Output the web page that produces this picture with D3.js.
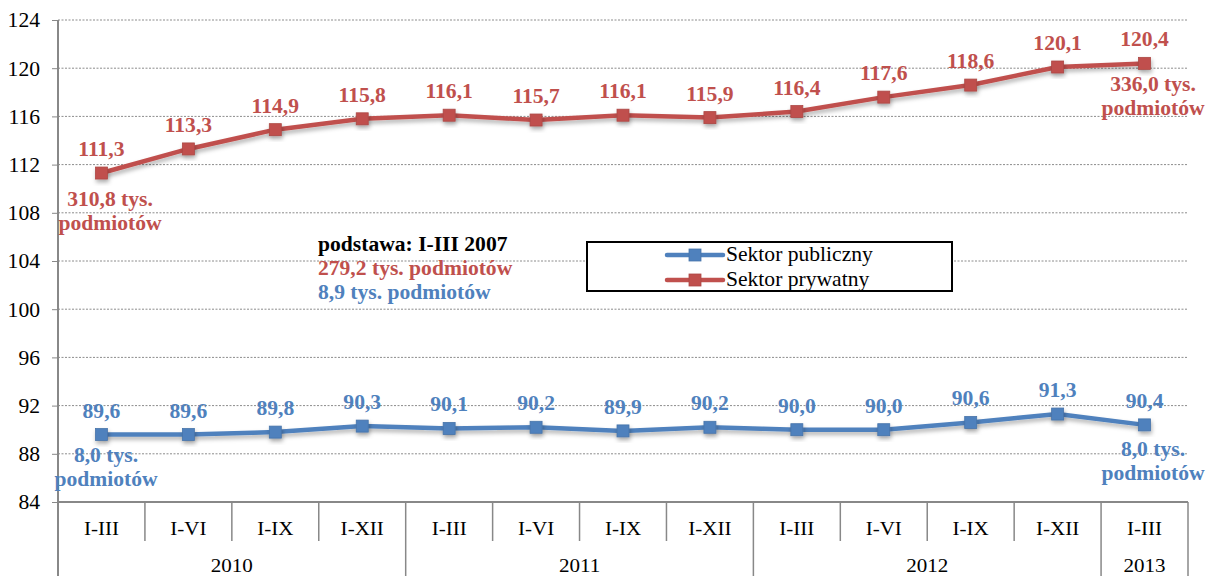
<!DOCTYPE html>
<html><head><meta charset="utf-8">
<script src="https://cdn.jsdelivr.net/npm/d3@7"></script>
<style>body{margin:0;background:#fff;}</style></head>
<body><svg id="c" width="1212" height="576" font-family="Liberation Serif"></svg>
<script>
const categories = ["I-III","I-VI","I-IX","I-XII","I-III","I-VI","I-IX","I-XII","I-III","I-VI","I-IX","I-XII","I-III"];
const years = [{label:"2010", from:0, to:3},{label:"2011", from:4, to:7},{label:"2012", from:8, to:11},{label:"2013", from:12, to:12}];
const publicValues = [89.6,89.6,89.8,90.3,90.1,90.2,89.9,90.2,90.0,90.0,90.6,91.3,90.4];
const privateValues = [111.3,113.3,114.9,115.8,116.1,115.7,116.1,115.9,116.4,117.6,118.6,120.1,120.4];
const yTicks = [84,88,92,96,100,104,108,112,116,120,124];
const seriesNames = ["Sektor publiczny","Sektor prywatny"];
const baseNote = ["podstawa: I-III 2007","279,2 tys. podmiotów","8,9 tys. podmiotów"];
const privateFirstNote = ["310,8 tys.","podmiotów"];
const privateLastNote = ["336,0 tys.","podmiotów"];
const publicFirstNote = ["8,0 tys.","podmiotów"];
const publicLastNote = ["8,0 tys.","podmiotów"];

const RED = "#C0504D", BLUE = "#4F81BD";
const FONT = "Liberation Serif";
const SX = 1.08;
const svg = d3.select("#c");
const L = 58, R = 1188, T = 20, B = 502;
const x = d3.scaleBand().domain(d3.range(categories.length)).range([L, R]);
const cx = i => x(i) + x.bandwidth()/2;
const y = d3.scaleLinear().domain([84,124]).range([B, T]);

const defs = svg.append("defs");
const f = defs.append("filter").attr("id","sh").attr("x","-50%").attr("y","-50%").attr("width","200%").attr("height","200%");
f.append("feDropShadow").attr("dx",1).attr("dy",3).attr("stdDeviation",2).attr("flood-color","#000").attr("flood-opacity",0.3);

// gridlines
svg.append("g").selectAll("line").data(yTicks.filter(t => t > 84)).join("line")
  .attr("x1", L).attr("x2", R).attr("y1", d => y(d)).attr("y2", d => y(d))
  .attr("stroke", "#8c8c8c").attr("stroke-width", 1).attr("stroke-dasharray", "2,1.5");

// y axis
const ya = svg.append("g").attr("transform", `translate(${L},0)`)
  .call(d3.axisLeft(y).tickValues(yTicks).tickSize(6).tickPadding(12).tickFormat(d3.format("d")));
ya.attr("font-family", FONT);
ya.select(".domain").remove();
ya.selectAll(".tick line").attr("stroke", "#888");
ya.selectAll(".tick text").attr("font-size", 20).attr("fill", "#000").attr("dy", "0.34em");
svg.append("line").attr("x1", L).attr("x2", L).attr("y1", T).attr("y2", 576).attr("stroke", "#888").attr("stroke-width", 2);

// x axis (category)
const xa = svg.append("g");
xa.append("line").attr("x1", L).attr("x2", R).attr("y1", B).attr("y2", B).attr("stroke", "#888").attr("stroke-width", 2);
xa.selectAll("line.div").data(d3.range(1, categories.length)).join("line").attr("class","div")
  .attr("x1", i => x(i)).attr("x2", i => x(i)).attr("y1", B)
  .attr("y2", i => years.some(yr => yr.from === i) ? 576 : 541)
  .attr("stroke", "#888").attr("stroke-width", 1.5);
xa.append("line").attr("x1", R).attr("x2", R).attr("y1", B).attr("y2", 576).attr("stroke", "#888").attr("stroke-width", 1.5);
xa.selectAll("text.cat").data(categories).join("text").attr("class","cat")
  .attr("x", (d, i) => cx(i)).attr("y", 535).attr("text-anchor", "middle")
  .attr("font-size", 19.5).text(d => d);
xa.selectAll("text.yr").data(years).join("text").attr("class","yr")
  .attr("x", d => (x(d.from) + x(d.to) + x.bandwidth())/2).attr("y", 572).attr("text-anchor", "middle")
  .attr("font-size", 19.5).text(d => d.label);

// series
const line = d3.line().x((d, i) => cx(i)).y(d => y(d));
function drawSeries(vals, color) {
  const g = svg.append("g");
  g.append("path").datum(vals).attr("d", line).attr("fill", "none").attr("stroke", color)
    .attr("stroke-width", 4.5).attr("stroke-linejoin", "round").attr("filter", "url(#sh)");
  g.selectAll("rect").data(vals).join("rect")
    .attr("x", (d, i) => cx(i) - 6).attr("y", d => y(d) - 6).attr("width", 12).attr("height", 12)
    .attr("fill", color).attr("stroke", d3.color(color).darker(0.3)).attr("stroke-width", 0.8)
    .attr("filter", "url(#sh)");
  g.selectAll("text").data(vals).join("text")
    .attr("x", (d, i) => cx(i)).attr("y", d => y(d) - 17).attr("text-anchor", "middle")
    .attr("font-size", 20).attr("font-weight", "bold").attr("fill", color)
    .text(d => d3.format(".1f")(d).replace(".", ","));
}
drawSeries(privateValues, RED);
drawSeries(publicValues, BLUE);

function note(lines, xc, yb, color) {
  svg.append("g").selectAll("text").data(lines).join("text")
    .attr("x", xc).attr("y", (d, i) => yb + i * 24).attr("text-anchor", "middle")
    .attr("font-size", 20).attr("font-weight", "bold").attr("fill", color).text(d => d);
}
note(privateFirstNote, 110, 206, RED);
note(privateLastNote, 1153, 91, RED);
note(publicFirstNote, 106, 462, BLUE);
note(publicLastNote, 1153, 456, BLUE);

// base note
svg.append("g").selectAll("text").data(baseNote).join("text")
  .attr("x", 318).attr("y", (d, i) => 251 + i * 24)
  .attr("font-size", 20).attr("font-weight", "bold")
  .attr("fill", (d, i) => ["#000", RED, BLUE][i]).text(d => d);

// legend
const lg = svg.append("g");
lg.append("rect").attr("x", 587).attr("y", 242).attr("width", 365).attr("height", 49)
  .attr("fill", "#fff").attr("stroke", "#000").attr("stroke-width", 2);
[BLUE, RED].forEach((c, i) => {
  const yy = 255 + i * 25;
  lg.append("line").attr("x1", 667).attr("x2", 723).attr("y1", yy).attr("y2", yy)
    .attr("stroke", c).attr("stroke-width", 4.5).attr("stroke-linecap", "round");
  lg.append("rect").attr("x", 689).attr("y", yy - 6).attr("width", 12).attr("height", 12).attr("fill", c)
    .attr("stroke", d3.color(c).darker(0.3)).attr("stroke-width", 0.8);
  lg.append("text").attr("x", 726).attr("y", yy + 6).attr("font-size", 20).text(seriesNames[i]);
});

// apply font and slight horizontal stretch to all texts (reference glyphs are wider than tall)
svg.selectAll("text").each(function() {
  const t = d3.select(this);
  const tx = +t.attr("x") || 0, ty = +t.attr("y") || 0;
  t.attr("font-family", FONT).attr("x", 0).attr("y", 0)
   .attr("transform", `translate(${tx},${ty}) scale(${SX},1)`);
});
</script></body></html>
